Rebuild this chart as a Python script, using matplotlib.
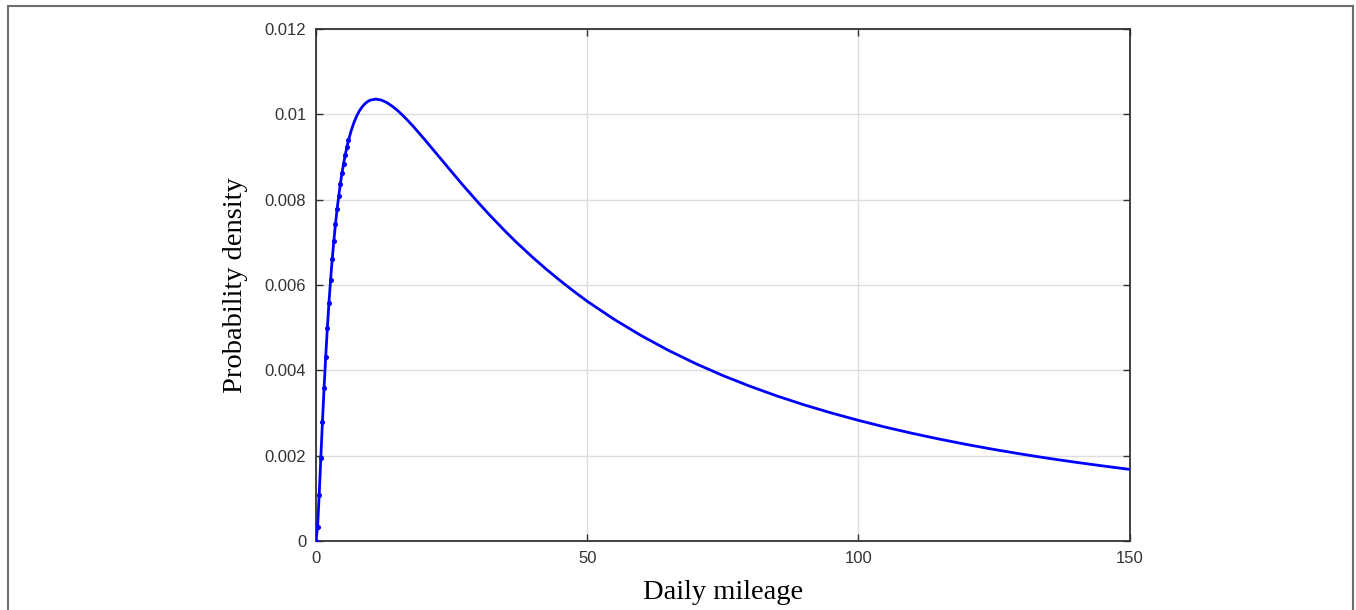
import numpy as np
import matplotlib.pyplot as plt
from matplotlib.lines import Line2D

# ---- data ----
mileage = [0, 0.3, 0.6, 0.9, 1.2, 1.5, 1.8, 2.1, 2.4, 2.7, 3.0, 3.3, 3.6, 3.9,
           4.2, 4.5, 4.8, 5.1, 5.4, 5.7, 6, 6.5, 7, 7.5, 8, 8.5, 9, 9.5, 10,
           11, 12, 13, 14, 15, 16, 17, 18, 20, 22, 25, 27, 30, 32, 35, 37, 40,
           42.5, 45, 47.5, 50, 55, 60, 65, 70, 75, 80, 85, 90, 95, 100, 105,
           110, 115, 120, 125, 130, 135, 140, 145, 150]
density = [0, 0.000327, 0.001086, 0.001952, 0.002798, 0.003595, 0.004325,
           0.004987, 0.005585, 0.006121, 0.00661, 0.007038, 0.007427, 0.00778,
           0.008086, 0.008369, 0.008623, 0.008845, 0.00905, 0.009228, 0.00939,
           0.00962, 0.009806, 0.009957, 0.01008, 0.010171, 0.010245, 0.010297,
           0.010332, 0.010357, 0.010336, 0.01028, 0.010196, 0.010095, 0.009976,
           0.009846, 0.009709, 0.009415, 0.009112, 0.008655, 0.008354,
           0.007921, 0.007643, 0.007247, 0.006996, 0.006643, 0.006367,
           0.006105, 0.005857, 0.00562, 0.005194, 0.004812, 0.004468, 0.004159,
           0.00388, 0.003629, 0.0034, 0.003192, 0.003003, 0.002829, 0.002669,
           0.002523, 0.002388, 0.002263, 0.002147, 0.00204, 0.00194, 0.001848,
           0.001762, 0.00168]
x_ticks = [0, 50, 100, 150]
y_ticks = [0, 0.002, 0.004, 0.006, 0.008, 0.01, 0.012]
y_tick_labels = ["0", "0.002", "0.004", "0.006", "0.008", "0.01", "0.012"]

fig = plt.figure(figsize=(13.56, 6.10), dpi=100)
ax = fig.add_axes([0.233, 0.113, 0.600, 0.8395])

n_dots = 21  # steep start, where the sample points show as dots
ax.plot(mileage, density, color="#0000ff", linewidth=2.0, zorder=3)
ax.plot(mileage[:n_dots], density[:n_dots], linestyle="none", marker="o",
        markersize=2.6, color="#0000ff", zorder=4)

ax.set_xlim(0, 150)
ax.set_ylim(0, 0.012)
ax.set_xticks(x_ticks)
ax.set_xticklabels([str(t) for t in x_ticks])
ax.set_yticks(y_ticks)
ax.set_yticklabels(y_tick_labels)
ax.grid(True, color="#dddddd", linewidth=1.0)
ax.set_axisbelow(True)

for s in ax.spines.values():
    s.set_color("#333333")
    s.set_linewidth(1.3)
ax.tick_params(direction="in", length=5, width=1.0, color="#333333",
               top=True, right=True, labelsize=12, labelcolor="#333333",
               pad=7)
for lab in ax.get_xticklabels() + ax.get_yticklabels():
    lab.set_family("Liberation Sans")

ax.set_xlabel("Daily mileage", family="Liberation Serif", fontsize=20.5,
              labelpad=10)
ax.set_ylabel("Probability density", family="Liberation Serif", fontsize=20.5,
              labelpad=12)

# outer frame of the image
frame_col = "#6e6e6e"
fig.add_artist(Line2D([8 / 1356, 1353 / 1356], [1 - 6 / 610, 1 - 6 / 610],
                      transform=fig.transFigure, color=frame_col, lw=1.5))
fig.add_artist(Line2D([8 / 1356, 8 / 1356], [0, 1 - 6 / 610],
                      transform=fig.transFigure, color=frame_col, lw=1.5))
fig.add_artist(Line2D([1353 / 1356, 1353 / 1356], [0, 1 - 6 / 610],
                      transform=fig.transFigure, color=frame_col, lw=1.5))

fig.savefig("out.png", dpi=100)
